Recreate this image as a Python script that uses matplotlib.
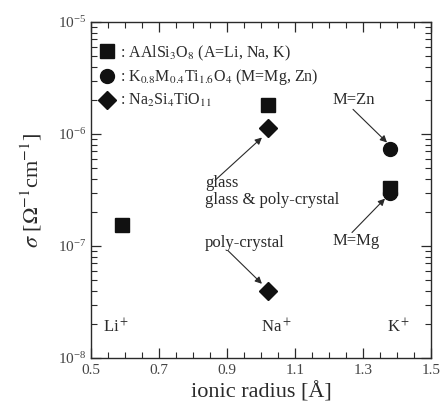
import numpy as np
import matplotlib
matplotlib.use("Agg")
import matplotlib.pyplot as plt
from matplotlib.ticker import MultipleLocator, LogLocator, NullFormatter, FixedLocator

plt.rcParams['font.family'] = ['Liberation Serif', 'DejaVu Serif']
plt.rcParams['mathtext.fontset'] = 'stix'

# Data (ionic radius [A], conductivity [S/cm])
aalsi_radius = [0.59, 1.02, 1.38]
aalsi_sigma = [1.55e-7, 1.8e-6, 3.3e-7]

kmti_radius = [1.38, 1.38]
kmti_sigma = [7.3e-7, 2.95e-7]

nasi_radius = [1.02, 1.02]
nasi_sigma = [1.12e-6, 3.95e-8]

ion_labels = ['Li$^+$', 'Na$^+$', 'K$^+$']
ion_label_x = [0.535, 1.0, 1.37]

ink = '#2a2a2a'

fig = plt.figure(figsize=(4.41, 4.12), dpi=100)
ax = fig.add_axes([0.2063, 0.131, 0.7707, 0.8156])

ax.plot(aalsi_radius, aalsi_sigma, 's', color='#111111', ms=10, ls='none',
        label=': AAlSi$_3$O$_8$ (A=Li, Na, K)', zorder=3)
ax.plot(kmti_radius, kmti_sigma, 'o', color='#111111', ms=10, ls='none',
        label=': K$_{0.8}$M$_{0.4}$Ti$_{1.6}$O$_4$ (M=Mg, Zn)', zorder=2)
ax.plot(nasi_radius, nasi_sigma, 'D', color='#111111', ms=9, ls='none',
        label=': Na$_2$Si$_4$TiO$_{11}$', zorder=3)

ax.set_xlim(0.5, 1.5)
ax.set_yscale('log')
ax.set_ylim(1e-8, 1e-5)

ax.xaxis.set_major_locator(FixedLocator([0.5, 0.7, 0.9, 1.1, 1.3, 1.5]))
ax.xaxis.set_minor_locator(MultipleLocator(0.05))
ax.yaxis.set_major_locator(LogLocator(base=10, numticks=10))
ax.yaxis.set_minor_locator(LogLocator(base=10, subs=np.arange(2, 10), numticks=10))
ax.yaxis.set_minor_formatter(NullFormatter())

ax.tick_params(which='both', direction='in', top=True, right=True,
               labelsize=11, labelcolor='#444444', color=ink)
ax.tick_params(which='major', length=7, width=0.9)
ax.tick_params(which='minor', length=4, width=0.8)
ax.tick_params(axis='x', pad=4)
for s in ax.spines.values():
    s.set_linewidth(1.0)
    s.set_color(ink)

ax.set_xlabel('ionic radius [Å]', fontsize=16, color=ink, labelpad=4)
ax.set_ylabel(r'$\sigma$ [$\Omega^{-1}$cm$^{-1}$]', fontsize=16, color=ink, labelpad=10)

ax.legend(loc='upper left', frameon=False, fontsize=11.5, handletextpad=0.35,
          borderaxespad=0.2, labelspacing=0.3, handlelength=1.0,
          labelcolor=ink, bbox_to_anchor=(-0.005, 0.965))

# ion labels along the bottom
for lab, xv in zip(ion_labels, ion_label_x):
    ax.text(xv, 1.9e-8, lab, fontsize=12, color=ink, va='center', ha='left')

arrow = dict(arrowstyle='-|>', color=ink, lw=0.8, mutation_scale=10, shrinkA=0, shrinkB=0)
txt = dict(fontsize=12, color=ink, va='center', ha='left')

ax.text(0.835, 3.63e-7, 'glass', **txt)
ax.text(0.835, 2.6e-7, 'glass & poly-crystal', **txt)
ax.annotate('', xy=(1.003, 9.3e-7), xytext=(0.865, 3.86e-7), arrowprops=arrow)

ax.text(0.835, 1.07e-7, 'poly-crystal', **txt)
ax.annotate('', xy=(1.003, 4.6e-8), xytext=(0.903, 9.1e-8), arrowprops=arrow)

ax.text(1.212, 2.0e-6, 'M=Zn', **txt)
ax.annotate('', xy=(1.371, 8.4e-7), xytext=(1.271, 1.66e-6), arrowprops=arrow)

ax.text(1.212, 1.12e-7, 'M=Mg', **txt)
ax.annotate('', xy=(1.365, 2.65e-7), xytext=(1.268, 1.32e-7), arrowprops=arrow)

fig.savefig('out.png', dpi=100)
